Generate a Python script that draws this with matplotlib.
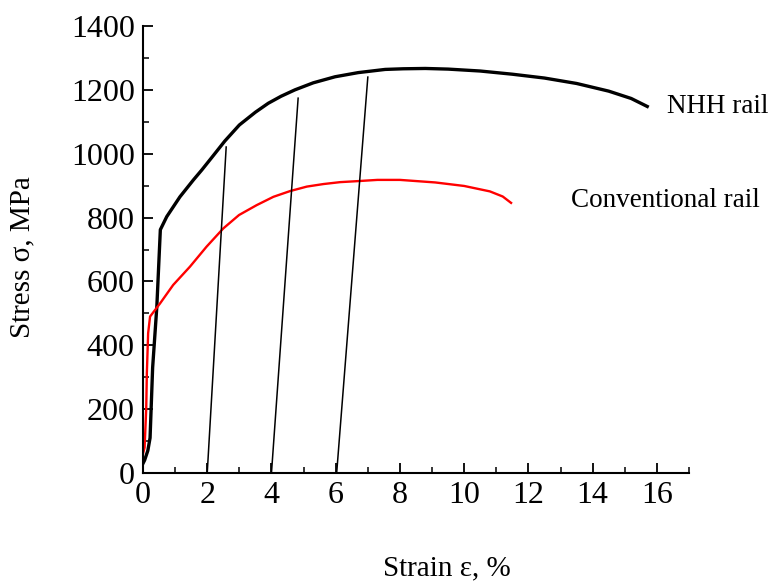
import matplotlib.pyplot as plt
from matplotlib.ticker import MultipleLocator

plt.rcParams['font.family'] = ['Liberation Serif', 'DejaVu Serif']

# NHH rail stress-strain curve
nhh_strain = [0.0, 0.05, 0.15, 0.22, 0.3, 0.43, 0.54, 0.74, 1.15, 1.57, 1.83, 2.14,
              2.55, 3.0, 3.5, 3.9, 4.3, 4.73, 5.3, 5.98, 6.7, 7.54, 8.1, 8.79,
              9.5, 10.5, 11.5, 12.5, 13.5, 14.5, 15.2, 15.7]
nhh_stress = [30, 40, 70, 110, 330, 520, 762, 803, 865, 918, 949, 988,
              1040, 1090, 1130, 1158, 1180, 1200, 1222, 1241, 1254, 1264, 1266, 1267,
              1265, 1259, 1249, 1237, 1220, 1196, 1173, 1148]

# Conventional rail stress-strain curve
conv_strain = [0.0, 0.05, 0.1, 0.12, 0.16, 0.22, 0.53, 0.94, 1.46, 1.98, 2.5,
               2.99, 3.54, 4.06, 4.58, 5.1, 5.62, 6.14, 6.66, 7.3, 8.0, 9.1,
               10.0, 10.8, 11.2, 11.46]
conv_stress = [60, 80, 200, 313, 438, 490, 531, 589, 646, 709, 766,
               808, 839, 865, 883, 897, 905, 911, 914, 918, 918, 910,
               899, 882, 866, 846]

# unloading lines: bottom strain, top strain, top stress
unload_bottom = [2.0, 4.0, 6.03]
unload_top_strain = [2.59, 4.83, 7.0]
unload_top_stress = [1021, 1174, 1240]

fig = plt.figure(figsize=(7.76, 5.87), dpi=100)
ax = fig.add_axes([143 / 776, 1 - 473 / 587, 546 / 776, 447 / 587])

ax.plot(nhh_strain, nhh_stress, color='black', lw=2.4)
ax.plot(conv_strain, conv_stress, color='red', lw=1.7)
for x0, x1, y1 in zip(unload_bottom, unload_top_strain, unload_top_stress):
    ax.plot([x0, x1], [0, y1], color='black', lw=1.1)

ax.text(16.3, 1149, 'NHH rail', fontsize=19.5, va='center', ha='left', clip_on=False)
ax.text(13.33, 855, 'Conventional rail', fontsize=19.5, va='center', ha='left', clip_on=False)

ax.set_xlim(0, 17)
ax.set_ylim(0, 1400)
ax.xaxis.set_major_locator(MultipleLocator(2))
ax.xaxis.set_minor_locator(MultipleLocator(1))
ax.yaxis.set_major_locator(MultipleLocator(200))
ax.yaxis.set_minor_locator(MultipleLocator(100))

for side in ['top', 'right']:
    ax.spines[side].set_visible(False)
for side in ['left', 'bottom']:
    ax.spines[side].set_linewidth(1.5)

ax.tick_params(which='major', direction='in', length=7, width=1.3, labelsize=23, pad=6)
ax.tick_params(which='minor', direction='in', length=4, width=1.1)

ax.set_xlabel('Strain ε, %', fontsize=21)
ax.set_ylabel('Stress σ, MPa', fontsize=21)
ax.xaxis.set_label_coords(0.557, -0.185)
ax.yaxis.set_label_coords(-0.198, 0.482)

fig.savefig('out.png', dpi=100)
